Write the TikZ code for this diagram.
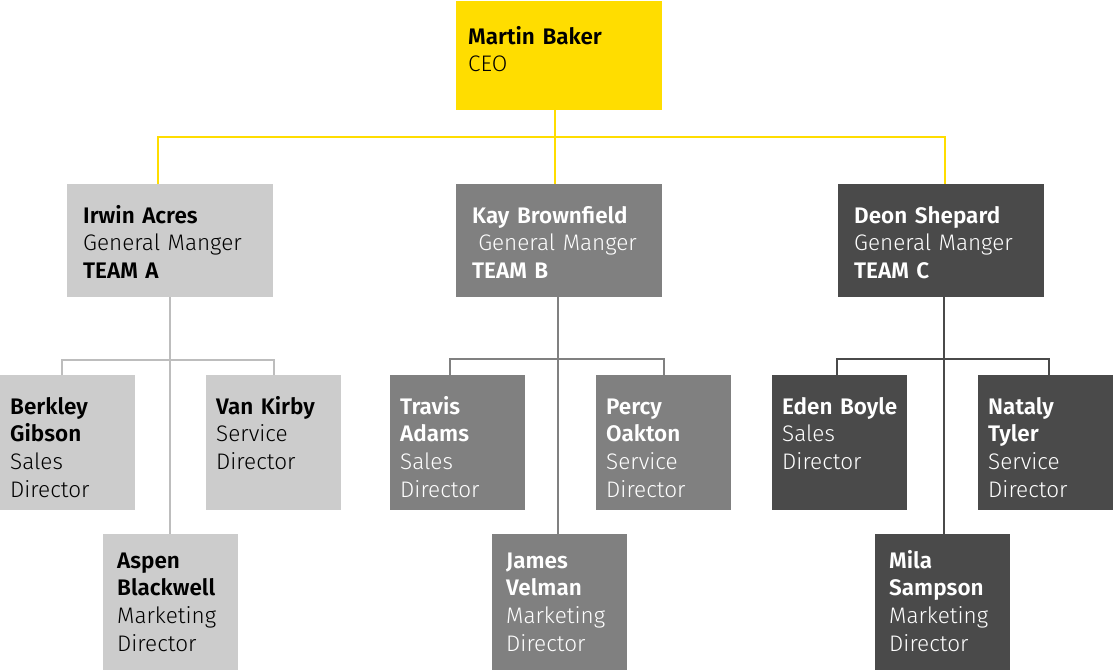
\documentclass[tikz,border=0pt]{standalone}
\usepackage{fontspec}
\setmainfont{Fira Sans Light}[BoldFont={Fira Sans SemiBold}]
\usepackage{xcolor}
\usepackage{tikz}
\usetikzlibrary{calc, positioning}

\definecolor{ceoyellow}{HTML}{FFDD00}
\definecolor{teamAgray}{HTML}{CCCCCC}
\definecolor{teamBgray}{HTML}{808080}
\definecolor{teamCgray}{HTML}{4A4A4A}
\definecolor{lineAgray}{HTML}{BDBDBD}

\begin{document}
\begin{tikzpicture}[x=1pt, y=-1pt,
    card/.style={rectangle, anchor=north west, inner ysep=0pt, align=left,
        font=\fontsize{22.5}{27.6}\selectfont},
    ceocard/.style={card, fill=ceoyellow, text=black, minimum width=206pt,
        text width=182pt, inner xsep=12pt, text height=43pt, text depth=66pt},
    mgrcard/.style={card, minimum width=206pt, text width=174pt,
        inner xsep=16pt, text height=39pt, text depth=74pt},
    dircard/.style={card, minimum width=135pt, text width=115pt,
        inner xsep=10pt, text height=39pt, text depth=96pt},
    lowcard/.style={card, minimum width=135pt, text width=107pt,
        inner xsep=14pt, text height=34pt, text depth=102pt},
    teamA/.style={fill=teamAgray, text=black},
    teamB/.style={fill=teamBgray, text=white},
    teamC/.style={fill=teamCgray, text=white},
    ceoline/.style={draw=ceoyellow, line width=2pt},
    lineA/.style={draw=lineAgray, line width=2pt},
    lineB/.style={draw=teamBgray, line width=2pt},
    lineC/.style={draw=teamCgray, line width=2pt}]
    \useasboundingbox (0,0) rectangle (1113,670);

    % 1. CEO
    \node[ceocard] (ceo) at (456,1) {\textbf{Martin Baker}\\CEO};

    % 2. General managers
    \node[mgrcard, teamA] (irwin) at (67,184) {\textbf{Irwin Acres}\\General Manger\\\textbf{TEAM A}};
    \node[mgrcard, teamB] (kay) at (456,184) {\textbf{Kay Brownfield}\\\hspace*{0.27em}General Manger\\\textbf{TEAM B}};
    \node[mgrcard, teamC] (deon) at (838,184) {\textbf{Deon Shepard}\\General Manger\\\textbf{TEAM C}};

    % 3. Directors of team A
    \node[dircard, teamA] (berkley) at (0,375) {\textbf{Berkley}\\\textbf{Gibson}\\Sales\\Director};
    \node[dircard, teamA] (vankirby) at (206,375) {\textbf{Van Kirby}\\Service\\Director};
    \node[lowcard, teamA] (aspen) at (103,534) {\textbf{Aspen}\\\textbf{Blackwell}\\Marketing\\Director};

    % Directors of team B
    \node[dircard, teamB] (travis) at (390,375) {\textbf{Travis}\\\textbf{Adams}\\Sales\\Director};
    \node[dircard, teamB] (percy) at (596,375) {\textbf{Percy}\\\textbf{Oakton}\\Service\\Director};
    \node[lowcard, teamB] (james) at (492,534) {\textbf{James}\\\textbf{Velman}\\Marketing\\Director};

    % Directors of team C
    \node[dircard, teamC] (eden) at (772,375) {\textbf{Eden~Boyle}\\Sales\\Director};
    \node[dircard, teamC] (nataly) at (978,375) {\textbf{Nataly}\\\textbf{Tyler}\\Service\\Director};
    \node[lowcard, teamC] (mila) at (875,534) {\textbf{Mila}\\\textbf{Sampson}\\Marketing\\Director};

    % 4. Connectors
    \coordinate (ceojoint) at (555,137);
    \coordinate (jointA) at (170,360);
    \coordinate (jointB) at (558,359);
    \coordinate (jointC) at (944,359);

    \draw[ceoline] (ceo.south -| ceojoint) -- (kay.north -| ceojoint);
    \draw[ceoline] ([xshift=-12pt]irwin.north) |- (ceojoint) -| ([xshift=4pt]deon.north);

    \draw[lineA] (irwin.south -| jointA) -- (aspen.north -| jointA);
    \draw[lineA] ([xshift=-6pt]berkley.north) |- (jointA) -| (vankirby.north);

    \draw[lineB] (kay.south -| jointB) -- (james.north -| jointB);
    \draw[lineB] ([xshift=-8pt]travis.north) |- (jointB) -| (percy.north);

    \draw[lineC] (deon.south -| jointC) -- (mila.north -| jointC);
    \draw[lineC] ([xshift=-3pt]eden.north) |- (jointC) -| ([xshift=3pt]nataly.north);

\end{tikzpicture}
\end{document}
